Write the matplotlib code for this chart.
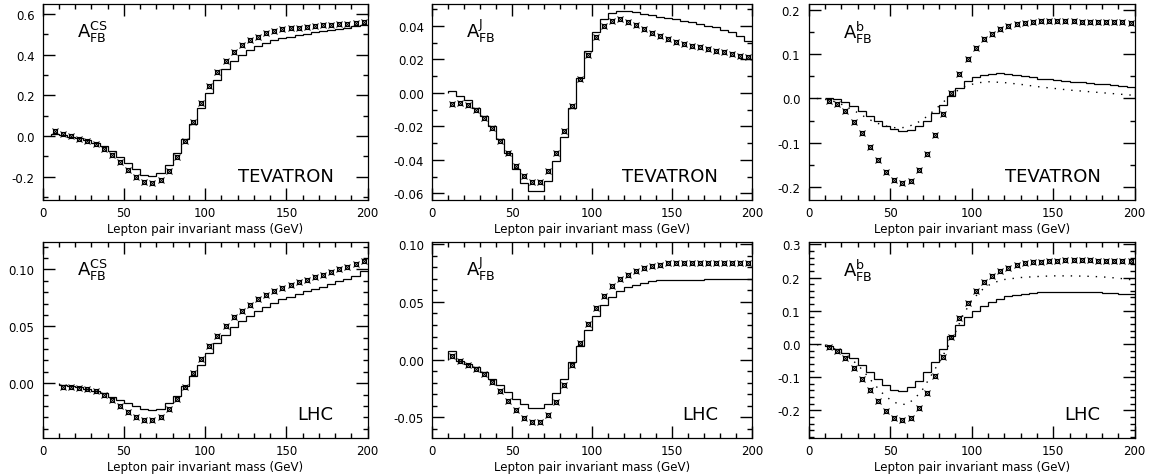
import numpy as np
import matplotlib
matplotlib.use("Agg")
import matplotlib.pyplot as plt
from matplotlib.ticker import MultipleLocator, FormatStrFormatter

plt.rcParams['font.family'] = ['DejaVu Sans']
plt.rcParams['axes.unicode_minus'] = False
plt.rcParams['mathtext.fontset'] = 'dejavusans'

# ---- data ----
# histogram bin edges (GeV) and marker positions (bin centres)
edges_cs_tev = np.arange(5, 201, 5)
edges = np.arange(10, 201, 5)
centres_cs_tev = edges_cs_tev[:-1] + 2.5
centres = edges[:-1] + 2.5

# TEVATRON, A_FB^CS
tev_cs_hist = [0.012, 0.006, -0.003, -0.012, -0.022, -0.035, -0.050, -0.074, -0.103, -0.134,
               -0.164, -0.192, -0.197, -0.180, -0.144, -0.085, -0.016, 0.057, 0.139, 0.212,
               0.278, 0.328, 0.368, 0.400, 0.425, 0.445, 0.460, 0.472, 0.482, 0.490,
               0.497, 0.504, 0.510, 0.516, 0.522, 0.528, 0.534, 0.540, 0.547]
tev_cs_pts = [0.025, 0.008, -0.002, -0.013, -0.026, -0.041, -0.066, -0.095, -0.130, -0.166,
              -0.201, -0.228, -0.233, -0.216, -0.172, -0.105, -0.026, 0.067, 0.161, 0.246,
              0.315, 0.369, 0.413, 0.446, 0.472, 0.490, 0.505, 0.515, 0.525, 0.530,
              0.534, 0.539, 0.543, 0.546, 0.549, 0.551, 0.554, 0.557, 0.561]

# TEVATRON, A_FB^J
tev_j_hist = [0.0008, -0.0018, -0.0045, -0.0088, -0.0138, -0.0198, -0.0276, -0.0362, -0.0455, -0.0536,
              -0.0585, -0.0585, -0.0526, -0.0410, -0.0262, -0.0093, 0.0090, 0.0248, 0.0363, 0.0438,
              0.0478, 0.0490, 0.0487, 0.0480, 0.0471, 0.0463, 0.0455, 0.0447, 0.0439, 0.0430,
              0.0420, 0.0410, 0.0400, 0.0390, 0.0376, 0.0362, 0.0342, 0.0312]
tev_j_pts = [-0.0067, -0.0059, -0.0073, -0.0102, -0.0150, -0.0213, -0.0288, -0.0361, -0.0437, -0.0497,
             -0.0534, -0.0530, -0.0469, -0.0361, -0.0227, -0.0077, 0.0081, 0.0225, 0.0331, 0.0398,
             0.0430, 0.0439, 0.0424, 0.0402, 0.0378, 0.0357, 0.0337, 0.0319, 0.0303, 0.0290,
             0.0280, 0.0272, 0.0264, 0.0252, 0.0242, 0.0231, 0.0219, 0.0211]

# TEVATRON, A_FB^b
tev_b_hist = [0.002, -0.002, -0.008, -0.017, -0.028, -0.040, -0.052, -0.062, -0.070, -0.074,
              -0.072, -0.063, -0.050, -0.032, -0.015, 0.006, 0.023, 0.040, 0.048, 0.053,
              0.056, 0.057, 0.056, 0.054, 0.051, 0.048, 0.0445, 0.043, 0.0413, 0.0397,
              0.038, 0.0365, 0.035, 0.0333, 0.0317, 0.030, 0.0285, 0.027]
tev_b_pts = [-0.005, -0.012, -0.029, -0.053, -0.079, -0.109, -0.139, -0.166, -0.185, -0.192,
             -0.186, -0.162, -0.125, -0.082, -0.036, 0.012, 0.056, 0.090, 0.115, 0.134,
             0.147, 0.157, 0.164, 0.169, 0.172, 0.174, 0.175, 0.176, 0.176, 0.175,
             0.175, 0.174, 0.174, 0.174, 0.174, 0.173, 0.173, 0.172]
tev_b_dot_x = [5, 10, 15, 20, 25, 30, 35, 40, 45, 50, 55, 60, 65, 70, 75, 80, 85, 90, 95, 100,
               105, 110, 115, 120, 130, 140, 150, 160, 170, 180, 190, 200]
tev_b_dot_y = [0.0, -0.002, -0.006, -0.013, -0.022, -0.032, -0.043, -0.053, -0.060, -0.065,
               -0.067, -0.065, -0.058, -0.048, -0.033, -0.017, 0.0, 0.015, 0.026, 0.032,
               0.036, 0.038, 0.037, 0.036, 0.032, 0.027, 0.023, 0.019, 0.016, 0.013, 0.010, 0.007]

# LHC, A_FB^CS
lhc_cs_hist = [-0.0015, -0.0023, -0.0035, -0.0050, -0.0067, -0.0088, -0.0117, -0.0146, -0.0175, -0.0199,
               -0.0222, -0.0234, -0.0222, -0.0175, -0.0111, -0.0023, 0.0064, 0.0161, 0.0263, 0.0351,
               0.0427, 0.0491, 0.0547, 0.0594, 0.0637, 0.0673, 0.0708, 0.0737, 0.0760, 0.0784,
               0.0807, 0.0827, 0.0848, 0.0871, 0.0895, 0.0915, 0.0944, 0.0985]
lhc_cs_pts = [-0.0029, -0.0032, -0.0038, -0.0050, -0.0070, -0.0105, -0.0146, -0.0196, -0.0249, -0.0295,
              -0.0322, -0.0325, -0.0295, -0.0228, -0.0137, -0.0035, 0.0088, 0.0213, 0.0327, 0.0418,
              0.0503, 0.0579, 0.0637, 0.0690, 0.0737, 0.0772, 0.0810, 0.0833, 0.0863, 0.0889,
              0.0909, 0.0930, 0.0953, 0.0974, 0.1000, 0.1020, 0.1044, 0.1076]

# LHC, A_FB^J
lhc_j_hist = [0.0078, -0.0009, -0.0038, -0.0066, -0.0110, -0.0168, -0.0220, -0.0277, -0.0341, -0.0384,
              -0.0422, -0.0422, -0.0384, -0.0292, -0.0168, -0.0023, 0.0121, 0.0260, 0.0376, 0.0474,
              0.0546, 0.0598, 0.0627, 0.0650, 0.0665, 0.0679, 0.0688, 0.0691, 0.0691, 0.0694,
              0.0694, 0.0694, 0.0697, 0.0697, 0.0697, 0.0700, 0.0700, 0.0700]
lhc_j_pts = [0.0029, -0.0012, -0.0043, -0.0081, -0.0127, -0.0191, -0.0269, -0.0355, -0.0436, -0.0503,
             -0.0543, -0.0538, -0.0477, -0.0367, -0.0217, -0.0046, 0.0142, 0.0309, 0.0445, 0.0555,
             0.0639, 0.0697, 0.0737, 0.0769, 0.0792, 0.0809, 0.0824, 0.0835, 0.0838, 0.0838,
             0.0838, 0.0838, 0.0838, 0.0838, 0.0838, 0.0838, 0.0841, 0.0841]

# LHC, A_FB^b
lhc_b_hist = [-0.006, -0.016, -0.028, -0.042, -0.063, -0.083, -0.104, -0.124, -0.138, -0.141,
              -0.131, -0.111, -0.084, -0.053, -0.016, 0.024, 0.057, 0.082, 0.100, 0.115,
              0.127, 0.136, 0.143, 0.148, 0.151, 0.154, 0.155, 0.156, 0.157, 0.157,
              0.157, 0.156, 0.156, 0.155, 0.154, 0.153, 0.151, 0.149]
lhc_b_pts = [-0.010, -0.022, -0.042, -0.072, -0.105, -0.138, -0.172, -0.202, -0.223, -0.230,
             -0.223, -0.192, -0.148, -0.097, -0.038, 0.020, 0.077, 0.123, 0.159, 0.186,
             0.204, 0.219, 0.230, 0.237, 0.243, 0.246, 0.248, 0.250, 0.251, 0.252,
             0.252, 0.252, 0.252, 0.251, 0.251, 0.251, 0.250, 0.250]
lhc_b_dot_x = [0, 5, 10, 15, 20, 25, 30, 35, 40, 45, 50, 55, 60, 65, 70, 75, 80, 85, 90, 95,
               100, 105, 110, 115, 120, 130, 140, 150, 160, 170, 180, 190, 200]
lhc_b_dot_y = [0.0, -0.002, -0.006, -0.013, -0.025, -0.042, -0.062, -0.090, -0.120, -0.147,
               -0.168, -0.181, -0.182, -0.165, -0.136, -0.096, -0.055, -0.012, 0.035, 0.090,
               0.130, 0.158, 0.176, 0.187, 0.194, 0.200, 0.203, 0.205, 0.205, 0.204, 0.202, 0.198, 0.192]

xlabel = 'Lepton pair invariant mass (GeV)'

fig = plt.figure(figsize=(11.52, 4.77), dpi=100)

# axes rectangles in figure fraction
col_left = [0.0371, 0.3753, 0.7020]
col_width = [0.2821, 0.2773, 0.2830]
row_bottom = [0.5786, 0.0797]
row_height = 0.4109


def panel(ax, e, hist, xc, pts, ylim, major, minor, fmt, name, collider,
          dot_x=None, dot_y=None):
    ax.stairs(hist, e, baseline=0, color='black', lw=0.9)
    if dot_x is not None:
        ax.plot(dot_x, dot_y, color='black', lw=1.0, ls=(0, (1, 5)))
    ax.plot(xc, pts, ls='none', marker='s', ms=2.6, mfc='none', mec='black', mew=0.8)
    ax.plot(xc, pts, ls='none', marker='x', ms=4.2, mec='black', mew=0.7)
    ax.set_xlim(0, 200)
    ax.set_ylim(*ylim)
    ax.xaxis.set_major_locator(MultipleLocator(50))
    ax.xaxis.set_minor_locator(MultipleLocator(10))
    ax.yaxis.set_major_locator(MultipleLocator(major))
    ax.yaxis.set_minor_locator(MultipleLocator(minor))
    ax.yaxis.set_major_formatter(FormatStrFormatter(fmt))
    ax.tick_params(which='both', direction='in', top=True, right=True, width=1.0,
                   labelsize=8.5, color='black')
    ax.tick_params(which='major', length=8.5, pad=6)
    ax.tick_params(which='minor', length=3.5)
    ax.tick_params(axis='x', which='major', pad=4)
    for s in ax.spines.values():
        s.set_linewidth(0.9)
    ax.set_xlabel(xlabel, fontsize=8.5, labelpad=2.5)
    ax.text(0.105, 0.83, r'$\mathregular{A^{%s}_{FB}}$' % name, transform=ax.transAxes,
            fontsize=13, ha='left', va='baseline')
    ax.text(0.895, 0.097, collider, transform=ax.transAxes, fontsize=13,
            ha='right', va='baseline')


ax = fig.add_axes([col_left[0], row_bottom[0], col_width[0], row_height])
panel(ax, edges_cs_tev, tev_cs_hist, centres_cs_tev, tev_cs_pts, (-0.315, 0.65), 0.2, 0.1,
      '%.1f', 'CS', 'TEVATRON')

ax = fig.add_axes([col_left[1], row_bottom[0], col_width[1], row_height])
panel(ax, edges, tev_j_hist, centres, tev_j_pts, (-0.064, 0.053), 0.02, 0.01,
      '%.2f', 'J', 'TEVATRON')

ax = fig.add_axes([col_left[2], row_bottom[0], col_width[2], row_height])
panel(ax, edges, tev_b_hist, centres, tev_b_pts, (-0.23, 0.214), 0.1, 0.05,
      '%.1f', 'b', 'TEVATRON', tev_b_dot_x, tev_b_dot_y)

ax = fig.add_axes([col_left[0], row_bottom[1], col_width[0], row_height])
panel(ax, edges, lhc_cs_hist, centres, lhc_cs_pts, (-0.048, 0.124), 0.05, 0.01,
      '%.2f', 'CS', 'LHC')

ax = fig.add_axes([col_left[1], row_bottom[1], col_width[1], row_height])
panel(ax, edges, lhc_j_hist, centres, lhc_j_pts, (-0.068, 0.102), 0.05, 0.01,
      '%.2f', 'J', 'LHC')

ax = fig.add_axes([col_left[2], row_bottom[1], col_width[2], row_height])
panel(ax, edges, lhc_b_hist, centres, lhc_b_pts, (-0.283, 0.307), 0.1, 0.02,
      '%.1f', 'b', 'LHC', lhc_b_dot_x, lhc_b_dot_y)

fig.savefig('out.png', dpi=100)
